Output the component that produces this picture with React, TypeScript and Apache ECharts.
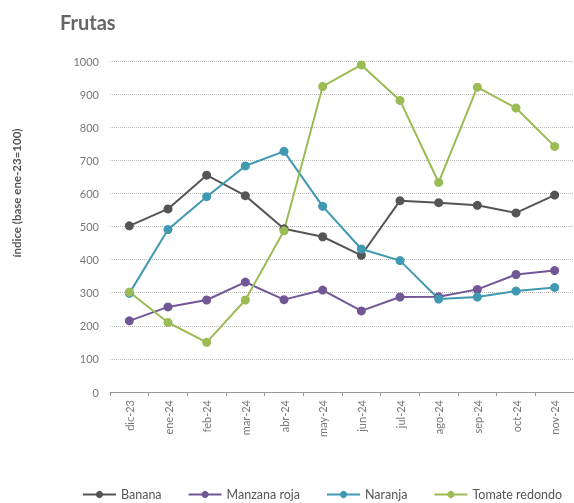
import React, { useEffect, useRef } from "react";
import * as echarts from "echarts";

const categories = ["dic-23", "ene-24", "feb-24", "mar-24", "abr-24", "may-24", "jun-24", "jul-24", "ago-24", "sep-24", "oct-24", "nov-24"];
const banana = [502, 553, 655, 593, 493, 469, 413, 578, 572, 564, 541, 595];
const manzana = [215, 257, 278, 332, 279, 308, 245, 287, 288, 310, 355, 367];
const naranja = [298, 491, 590, 683, 727, 561, 432, 397, 281, 287, 305, 316];
const tomate = [302, 210, 150, 278, 487, 923, 988, 881, 633, 921, 858, 742];
const yTicks = [0, 100, 200, 300, 400, 500, 600, 700, 800, 900, 1000];

const FONT = "Lato, 'Open Sans', sans-serif";

export default function App() {
  const ref = useRef<HTMLDivElement>(null);
  useEffect(() => {
    if (!ref.current) return;
    const chart = echarts.init(ref.current, undefined, { renderer: "svg" });
    const mk = (name: string, data: number[], color: string) => ({
      name,
      type: "line",
      data,
      symbol: "circle",
      symbolSize: 9,
      lineStyle: { width: 2, color },
      itemStyle: { color },
      color,
    });
    chart.setOption({
      animation: false,
      textStyle: { fontFamily: FONT },
      title: {
        text: "Frutas",
        left: 55,
        top: 7,
        textStyle: { fontSize: 20, fontWeight: "bold", color: "#666", fontFamily: FONT },
      },
      graphic: [
        {
          type: "text",
          x: 16,
          y: 193,
          rotation: Math.PI / 2,
          style: {
            text: "índice (base ene-23=100)",
            fontSize: 11.5,
            fontWeight: "bold",
            fill: "#555",
            fontFamily: FONT,
            align: "center",
            verticalAlign: "middle",
          },
        },
      ],
      legend: {
        top: 488,
        left: 82,
        right: 0,
        padding: 0,
        itemWidth: 33,
        itemHeight: 9,
        itemGap: 26,
        textStyle: { fontSize: 12.5, color: "#555", fontFamily: FONT },
        data: ["Banana", "Manzana roja", "Naranja", "Tomate redondo"],
      },
      grid: { left: 110, right: -4, top: 61, bottom: 111, containLabel: false },
      xAxis: {
        type: "category",
        data: categories,
        boundaryGap: true,
        axisLine: { show: true, lineStyle: { color: "#999", width: 1 } },
        axisTick: { show: true, alignWithLabel: false, length: 4, lineStyle: { color: "#999" } },
        axisLabel: { rotate: 90, fontSize: 11, color: "#777", margin: 8, fontFamily: FONT },
        splitLine: { show: false },
      },
      yAxis: {
        type: "value",
        min: yTicks[0],
        max: yTicks[yTicks.length - 1],
        interval: 100,
        axisLine: { show: false },
        axisTick: { show: false },
        axisLabel: { fontSize: 11, color: "#777", margin: 11, fontFamily: FONT, formatter: (v: number) => String(v) },
        splitLine: { show: true, lineStyle: { type: "dotted", color: "#bbb", width: 1 } },
      },
      series: [
        mk("Banana", banana, "#555555"),
        mk("Manzana roja", manzana, "#715796"),
        mk("Naranja", naranja, "#3e99b1"),
        mk("Tomate redondo", tomate, "#9bbb54"),
      ],
    });
    return () => chart.dispose();
  }, []);
  return <div ref={ref} style={{ position: "fixed", left: 0, top: 0, width: 574, height: 503 }} />;
}
